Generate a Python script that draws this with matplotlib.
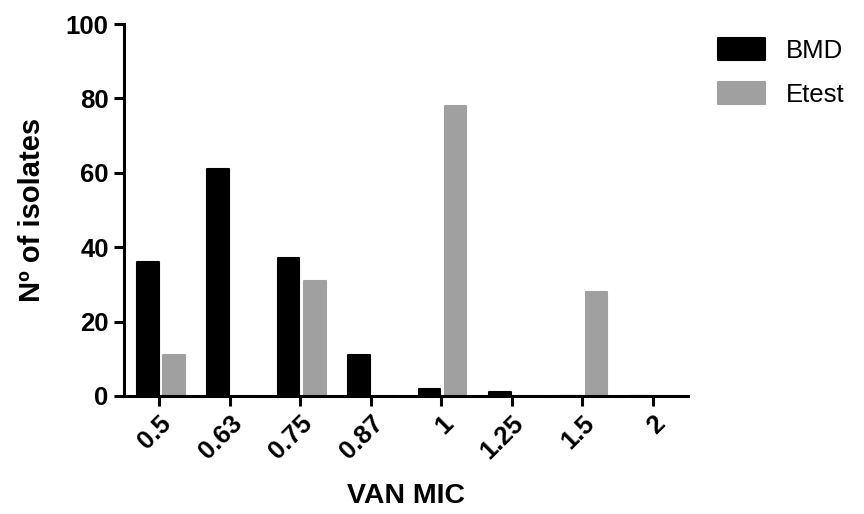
import numpy as np
import matplotlib
matplotlib.use("Agg")
import matplotlib.pyplot as plt

plt.rcParams['font.family'] = ['Liberation Sans', 'DejaVu Sans']

# data
mic_labels = ['0.5', '0.63', '0.75', '0.87', '1', '1.25', '1.5', '2']
bmd = [36, 61, 37, 11, 2, 1, 0, 0]
etest = [11, 0, 31, 0, 78, 0, 28, 0]

x = np.arange(len(mic_labels))
w = 0.31
off = 0.185

fig = plt.figure(figsize=(8.64, 5.14), dpi=100)
ax = fig.add_axes([0.1435, 0.2296, 0.6525, 0.7237])

ax.bar(x - off + 0.02, bmd, w, color='black', edgecolor='black',
       linewidth=1.5, joinstyle='round', label='BMD')
ax.bar(x + off + 0.02, etest, w, color='#a0a0a0', edgecolor='#a0a0a0',
       linewidth=1.5, joinstyle='round', label='Etest')

ax.set_xlim(-0.5, 7.5)
ax.set_ylim(0, 100)
ax.set_yticks([0, 20, 40, 60, 80, 100])
ax.set_xticks(x)
ax.set_xticklabels(mic_labels, rotation=45, ha='right', rotation_mode='anchor')

for lbl in ax.get_xticklabels() + ax.get_yticklabels():
    lbl.set_fontweight('bold')
    lbl.set_fontsize(18.5)

ax.spines['top'].set_visible(False)
ax.spines['right'].set_visible(False)
ax.spines['left'].set_linewidth(2.2)
ax.spines['bottom'].set_linewidth(2.2)
ax.tick_params(axis='both', width=2.2, length=7, pad=4)

ax.set_xlabel('VAN MIC', fontsize=20.5, fontweight='bold', labelpad=14)
ax.set_ylabel('Nº of isolates', fontsize=21, fontweight='bold', labelpad=14)

leg = ax.legend(loc='upper left', bbox_to_anchor=(1.035, 0.99), frameon=False,
                fontsize=18.5, handlelength=1.85, handleheight=0.93,
                handletextpad=0.8, labelspacing=0.75, borderaxespad=0)
for p in leg.get_patches():
    p.set_joinstyle('round')

fig.savefig('out.png', dpi=100)
